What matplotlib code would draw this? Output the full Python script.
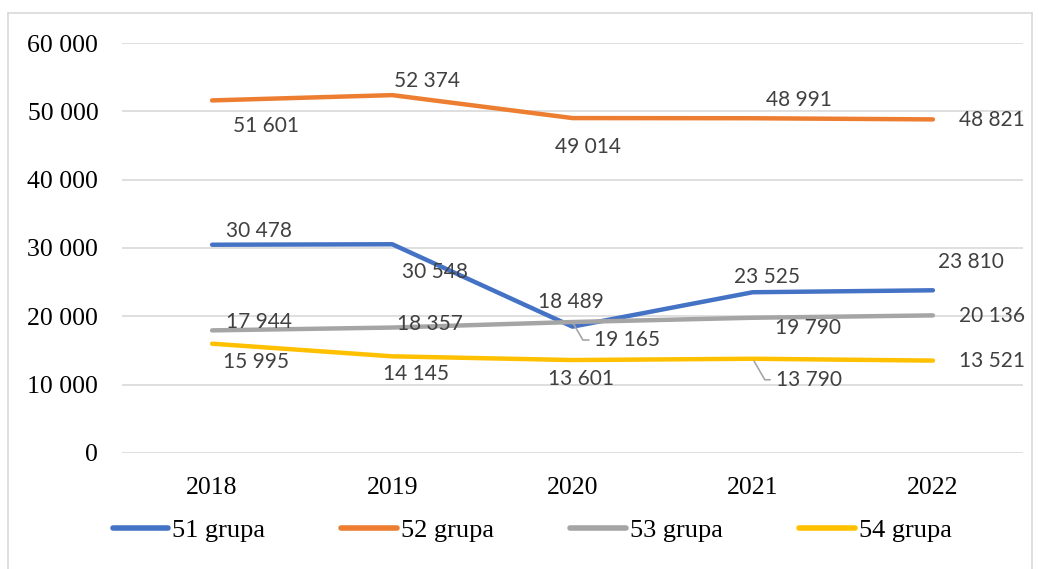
import matplotlib.pyplot as plt
from matplotlib.lines import Line2D

years = ["2018", "2019", "2020", "2021", "2022"]
series_names = ["51 grupa", "52 grupa", "53 grupa", "54 grupa"]
g51 = [30478, 30548, 18489, 23525, 23810]
g52 = [51601, 52374, 49014, 48991, 48821]
g53 = [17944, 18357, 19165, 19790, 20136]
g54 = [15995, 14145, 13601, 13790, 13521]
yticks = [0, 10000, 20000, 30000, 40000, 50000, 60000]

colors = ["#4472C4", "#ED7D31", "#A5A5A5", "#FFC000"]
# label offsets in pixels from each point (dx, dy)
offsets = [
    [(47, 14), (43, -28), (-2, 25), (14, 15), (38, 28)],
    [(54, -26), (35, 14), (16, -29), (46, 18), (59, -1)],
    [(47, 8), (38, 4), (55, -18), (55, -10), (59, -1)],
    [(44, -18), (24, -18), (9, -19), (56, -21), (59, 0)],
]
leaders = {(2, 2), (3, 3)}

def fmt(v):
    return f"{v:,}".replace(",", " ")

fig = plt.figure(figsize=(10.39, 5.69), dpi=100)
ax = fig.add_axes([0.1174, 0.2039, 0.8672, 0.7205])
x = list(range(len(years)))
for i, vals in enumerate([g51, g52, g53, g54]):
    ax.plot(x, vals, color=colors[i], linewidth=3.2, solid_capstyle="round", zorder=3)
for i, vals in enumerate([g51, g52, g53, g54]):
    for j, v in enumerate(vals):
        dx, dy = offsets[i][j]
        props = None
        if (i, j) in leaders:
            props = dict(arrowstyle="-", color="#A6A6A6", lw=1.2,
                         connectionstyle="angle,angleA=0,angleB=-60,rad=0",
                         shrinkA=2, shrinkB=2)
        ax.annotate(fmt(v), (j, v), xytext=(dx, dy), textcoords="offset pixels",
                    ha="center", va="center", fontsize=15, color="#404040",
                    family="Lato", arrowprops=props, zorder=4)

ax.set_xlim(-0.5, 4.5)
ax.set_ylim(0, 60000)
ax.set_yticks(yticks)
ax.set_yticklabels([fmt(t) for t in yticks], family="Liberation Serif", fontsize=18.5)
ax.set_xticks(x)
ax.set_xticklabels(years, family="Liberation Serif", fontsize=18.5)
ax.tick_params(axis="y", length=0, pad=17)
ax.tick_params(axis="x", length=0, pad=17)
ax.grid(axis="y", color="#D9D9D9", linewidth=1.2)
ax.set_axisbelow(True)
for s in ax.spines.values():
    s.set_visible(False)

handles = [Line2D([], [], color=c, linewidth=4, solid_capstyle="round") for c in colors]
fig.legend(handles, series_names, loc="center", bbox_to_anchor=(0.512, 0.068), ncol=4,
           frameon=False, handlelength=2.1, handletextpad=0.15, columnspacing=2.9,
           prop=dict(family="Liberation Serif", size=19))

# outer frame
fr = dict(color="#D9D9D9", linewidth=1.2, transform=fig.transFigure)
x0, x1, y1 = 8 / 1039, 1032 / 1039, 1 - 13 / 569
fig.add_artist(Line2D([x0, x0], [0, y1], **fr))
fig.add_artist(Line2D([x0, x1], [y1, y1], **fr))
fig.add_artist(Line2D([x1, x1], [0, y1], **fr))

plt.savefig("out.png", dpi=100)
